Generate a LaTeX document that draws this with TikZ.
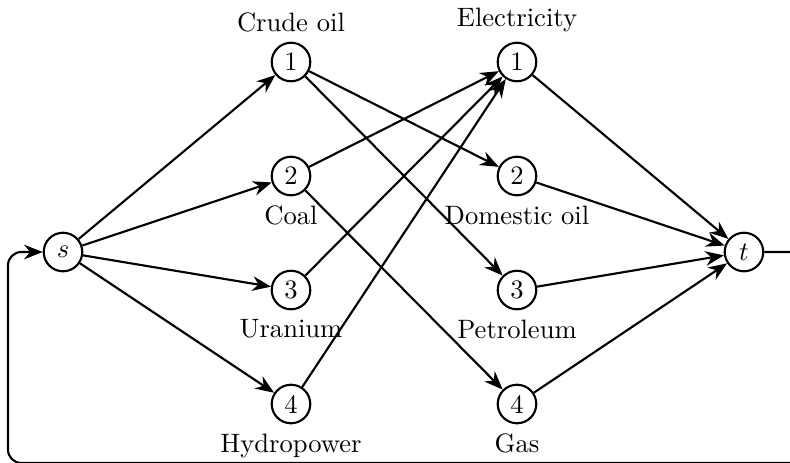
\documentclass[tikz,border=0pt]{standalone}
\usetikzlibrary{arrows.meta}
\begin{document}
\begin{tikzpicture}[x=0.376pt,y=-0.376pt,
  vtx/.style={circle,draw,thick,minimum size=14.5pt,inner sep=1pt},
  arr/.style={thick,-{Stealth[length=7pt,width=5.5pt]}},
  ln/.style={thick}]
\useasboundingbox (0,0) rectangle (790,462);
\node[vtx] (s) at (63,252) {$s$};
\node[vtx] (t) at (744,252) {$t$};
\node[vtx,label=above:Crude oil] (a1) at (291,62) {1};
\node[vtx,label=below:Coal] (a2) at (291,176) {2};
\node[vtx,label=below:Uranium] (a3) at (291,290) {3};
\node[vtx,label=below:Hydropower] (a4) at (291,404) {4};
\node[vtx,label=above:Electricity] (b1) at (517,62) {1};
\node[vtx,label=below:Domestic oil] (b2) at (517,176) {2};
\node[vtx,label=below:Petroleum] (b3) at (517,290) {3};
\node[vtx,label=below:Gas] (b4) at (517,404) {4};
\coordinate (c1) at (810,252);
\coordinate (c2) at (810,463);
\coordinate (c3) at (8,463);
\coordinate (c4) at (8,252);
\foreach \i in {1,2,3,4} {
  \draw[arr] (s) -- (a\i);
  \draw[arr] (b\i) -- (t);
}
\draw[arr] (a1) -- (b2);
\draw[arr] (a1) -- (b3);
\draw[arr] (a2) -- (b1);
\draw[arr] (a2) -- (b4);
\draw[arr] (a3) -- (b1);
\draw[arr] (a4) -- (b1);
\draw[arr,rounded corners=5pt] (t) -- (c1) -- (c2) -- (c3) -- (c4) -- (s);
\end{tikzpicture}
\end{document}
